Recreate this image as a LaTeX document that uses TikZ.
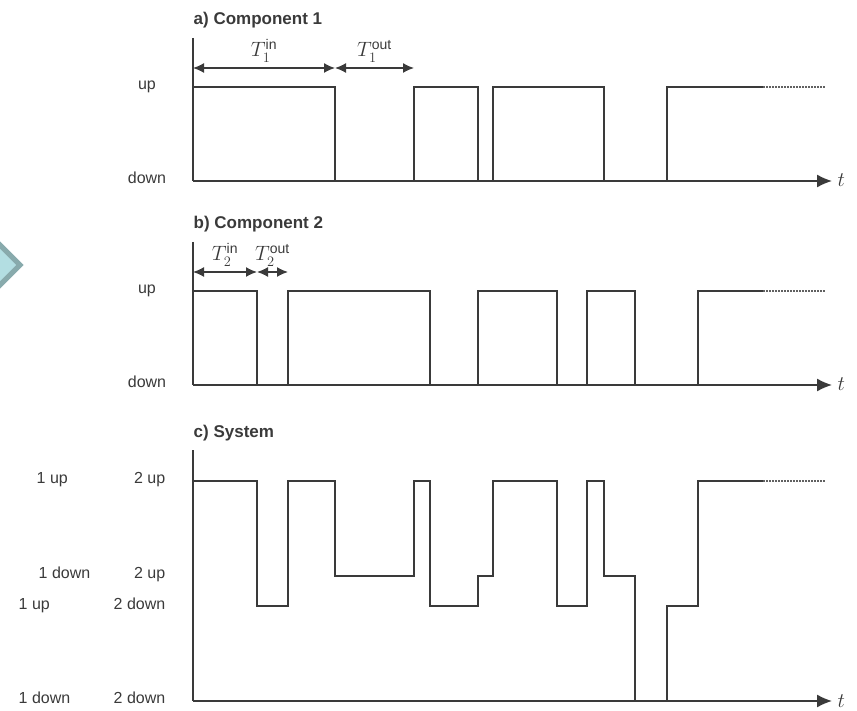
\documentclass[tikz,border=0pt]{standalone}
\usepackage{amsmath}
\usepackage{fontspec}
\setmainfont{Liberation Sans}
\usetikzlibrary{arrows.meta,positioning}

\definecolor{ink}{HTML}{3A3A3A}
\definecolor{chevfill}{HTML}{B3DEE2}
\definecolor{chevline}{HTML}{88AAAC}

\begin{document}
\begin{tikzpicture}[x=1pt,y=-1pt,line width=1.4pt,
                    every node/.style={text=ink,inner sep=0pt,font=\fontsize{16}{18}\selectfont},
                    paneltitle/.style={anchor=base west,font=\bfseries\fontsize{17}{19}\selectfont},
                    lvl/.style={anchor=mid},
                    wave/.style={draw=ink,line join=miter},
                    tail/.style={draw=ink!80,line width=1.2pt,dash pattern=on 1.5pt off 1.5pt},
                    axis/.style={draw=ink,-{Latex[length=15pt,width=13pt]}},
                    span/.style={draw=ink,{Latex[length=11pt,width=10pt]}-{Latex[length=11pt,width=10pt]}},
                    spanlbl/.style={midway,anchor=base,yshift=11pt,font=\fontsize{20}{22}\selectfont},
                    tlbl/.style={anchor=base west,font=\fontsize{20}{22}\selectfont}]
  \useasboundingbox (0,0) rectangle (857,711);

  \filldraw[fill=chevfill,draw=chevline,line width=5pt] (-26,219) -- (20,265) -- (-26,311) -- cycle;

  % a) component 1
  \node[paneltitle] (title_a) at (193,25) {a) Component 1};
  \coordinate (a_top)  at (193,38);
  \coordinate (a_org)  at (193,181);
  \coordinate (a_end)  at (832,181);
  \node[lvl] (a_up)   at (147,87)  {up};
  \node[lvl] (a_down) at (147,181) {down};
  \draw[ink] (a_top) -- (a_org);
  \draw[axis] (a_org) -- (a_end);
  \node[tlbl] (a_t) at (837,187) {$t$};
  \draw[wave] (193,87) -| (335,181) -| (414,87) -| (478,181) -| (493,87) -| (604,181) -| (667,87) -- (763,87);
  \draw[tail] (763,87) -- (826,87);
  \coordinate (a_s0) at (193,68);
  \coordinate (a_s1) at (335,68);
  \coordinate (a_s2) at (414,68);
  \draw[span] (a_s0) -- node[spanlbl] {$T_1^{\text{in}}$}  (a_s1);
  \draw[span] (a_s1) -- node[spanlbl] {$T_1^{\text{out}}$} (a_s2);

  % b) component 2
  \node[paneltitle] (title_b) at (193,229) {b) Component 2};
  \coordinate (b_top)  at (193,242);
  \coordinate (b_org)  at (193,385);
  \coordinate (b_end)  at (832,385);
  \node[lvl] (b_up)   at (147,291) {up};
  \node[lvl] (b_down) at (147,385) {down};
  \draw[ink] (b_top) -- (b_org);
  \draw[axis] (b_org) -- (b_end);
  \node[tlbl] (b_t) at (837,391) {$t$};
  \draw[wave] (193,291) -| (257,385) -| (288,291) -| (430,385) -| (478,291) -| (557,385) -| (587,291) -| (635,385) -| (698,291) -- (763,291);
  \draw[tail] (763,291) -- (826,291);
  \coordinate (b_s0) at (193,272);
  \coordinate (b_s1) at (257,272);
  \coordinate (b_s2) at (288,272);
  \draw[span] (b_s0) -- node[spanlbl] {$T_2^{\text{in}}$}  (b_s1);
  \draw[span] (b_s1) -- node[spanlbl] {$T_2^{\text{out}}$} (b_s2);

  % c) system
  \node[paneltitle] (title_c) at (193,437) {c) System};
  \coordinate (c_top)  at (193,450);
  \coordinate (c_org)  at (193,701);
  \coordinate (c_end)  at (832,701);
  \node[anchor=mid west] (c_1uu) at (36,481)  {1 up};
  \node[anchor=mid east] (c_2uu) at (166,481) {2 up};
  \node[anchor=mid west] (c_1du) at (38,576)  {1 down};
  \node[anchor=mid east] (c_2du) at (166,576) {2 up};
  \node[anchor=mid west] (c_1ud) at (18,607)  {1 up};
  \node[anchor=mid east] (c_2ud) at (166,607) {2 down};
  \node[anchor=mid west] (c_1dd) at (18,701)  {1 down};
  \node[anchor=mid east] (c_2dd) at (166,701) {2 down};
  \draw[ink] (c_top) -- (c_org);
  \draw[ink,line width=2.4pt] (193,563) -- (193,593);
  \draw[axis] (c_org) -- (c_end);
  \node[tlbl] (c_t) at (837,707) {$t$};
  \draw[wave] (193,481) -| (257,606) -| (288,481) -| (335,576) -| (414,481) -| (430,606) -| (478,576) -| (493,481)
              -| (557,606) -| (587,481) -| (604,576) -| (635,701) -| (667,606) -| (698,481) -- (763,481);
  \draw[tail] (763,481) -- (826,481);
\end{tikzpicture}
\end{document}
